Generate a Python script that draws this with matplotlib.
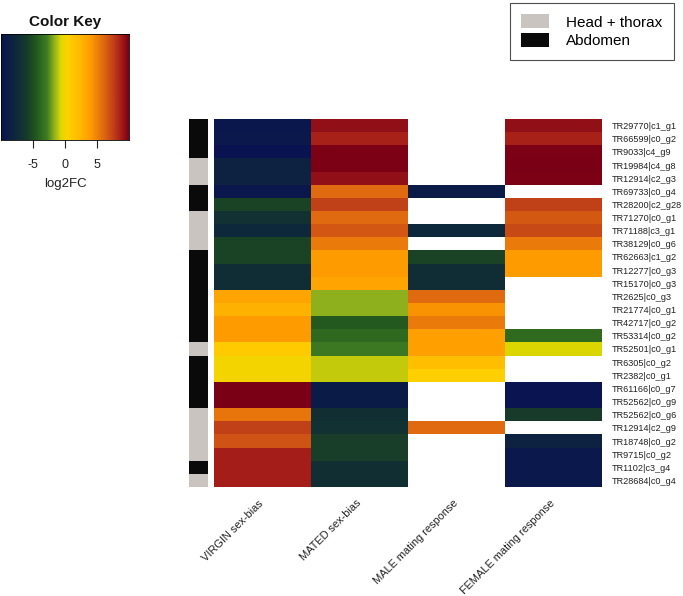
import numpy as np
import matplotlib
matplotlib.use("Agg")
import matplotlib.pyplot as plt
from matplotlib.colors import LinearSegmentedColormap, ListedColormap
from matplotlib.patches import Patch

plt.rcParams['font.family'] = ['Liberation Sans', 'DejaVu Sans']
plt.rcParams['axes.unicode_minus'] = False

# row labels (top to bottom)
genes = ["TR29770|c1_g1", "TR66599|c0_g2", "TR9033|c4_g9", "TR19984|c4_g8",
         "TR12914|c2_g3", "TR69733|c0_g4", "TR28200|c2_g28", "TR71270|c0_g1",
         "TR71188|c3_g1", "TR38129|c0_g6", "TR62663|c1_g2", "TR12277|c0_g3",
         "TR15170|c0_g3", "TR2625|c0_g3", "TR21774|c0_g1", "TR42717|c0_g2",
         "TR53314|c0_g2", "TR52501|c0_g1", "TR6305|c0_g2", "TR2382|c0_g1",
         "TR61166|c0_g7", "TR52562|c0_g9", "TR52562|c0_g6", "TR12914|c2_g9",
         "TR18748|c0_g2", "TR9715|c0_g2", "TR1102|c3_g4", "TR28684|c0_g4"]

conditions = ["VIRGIN sex-bias", "MATED sex-bias", "MALE mating response", "FEMALE mating response"]

# tissue: 0 = head + thorax, 1 = abdomen
tissue = [1, 1, 1, 0, 0, 1, 1, 0, 0, 0, 1, 1, 1, 1,
          1, 1, 1, 0, 1, 1, 1, 1, 0, 0, 0, 0, 1, 0]

nan = np.nan
virgin = [-9.5, -9.3, -10, -8.3, -8.3, -9.5, -5.5, -6.8, -7.8, -5.5, -5.5, -7.2, -7.2, 3.5,
          2.8, 4.0, 4.0, 1.0, 0.0, 0.0, 10, 10, 5.5, 7.5, 6.8, 8.8, 8.8, 8.8]
mated = [9.3, 8.6, 9.9, 9.9, 9.3, 6.0, 7.5, 6.0, 6.7, 5.3, 4.0, 4.0, 3.5, -1.7,
         -1.7, -4.4, -3.7, -3.0, -1.0, -1.0, -9.0, -9.0, -7.0, -6.8, -5.8, -5.8, -7.0, -7.0]
male = [nan, nan, nan, nan, nan, -9.0, nan, nan, -7.8, nan, -5.5, -7.2, -7.2, 6.0,
        4.3, 5.3, 3.7, 3.7, 1.8, 0.6, nan, nan, nan, 6.0, nan, nan, nan, nan]
female = [9.3, 8.6, 9.9, 10, 9.9, nan, 7.5, 6.6, 7.2, 5.3, 4.0, 4.0, nan, nan,
          nan, nan, -3.6, -0.7, nan, nan, -9.8, -9.8, -6.0, nan, -8.3, -9.3, -9.3, -9.3]

stops = [(0.00, "#0a1352"), (0.10, "#0d263d"), (0.20, "#173a2a"), (0.28, "#245a1e"),
         (0.36, "#3f7d22"), (0.42, "#95b51d"), (0.47, "#e0d800"), (0.52, "#ffd200"),
         (0.62, "#ffb800"), (0.70, "#ff9c00"), (0.80, "#e06a10"), (0.88, "#c04018"),
         (0.95, "#a01818"), (1.00, "#7a0015")]
cmap = LinearSegmentedColormap.from_list("fc", stops)
cmap.set_bad("white")
vmin, vmax = -10, 10

W, H = 683, 596
fig = plt.figure(figsize=(W / 100, H / 100), dpi=100)

def box(x0, y0, x1, y1):
    return [x0 / W, 1 - y1 / H, (x1 - x0) / W, (y1 - y0) / H]

# main heatmap
data = np.ma.masked_invalid(np.array([virgin, mated, male, female]).T)
ax = fig.add_axes(box(214, 119, 602, 487))
ax.imshow(data, cmap=cmap, vmin=vmin, vmax=vmax, aspect='auto', interpolation='nearest')
ax.set_xticks(np.arange(len(conditions)) - 0.04)
ax.set_xticklabels(conditions, rotation=45, ha='right', va='top', rotation_mode='anchor',
                   fontsize=7.9, color='#222222')
ax.set_yticks(range(len(genes)))
ax.set_yticklabels(genes, fontsize=6.6, color='#222222')
ax.yaxis.tick_right()
ax.tick_params(axis='y', length=0, pad=7)
ax.tick_params(axis='x', length=0, pad=8)
for s in ax.spines.values():
    s.set_visible(False)

# tissue side bar
tissue_colors = ["#c9c4c0", "#0a0a0a"]
side = fig.add_axes(box(189, 119, 208, 487))
side.imshow(np.array(tissue)[:, None], cmap=ListedColormap(tissue_colors),
            vmin=0, vmax=1, aspect='auto', interpolation='nearest')
side.axis('off')

# color key
kax = fig.add_axes(box(1, 34, 129, 140))
grad = np.linspace(vmin, vmax, 256)[None, :]
kax.imshow(grad, cmap=cmap, vmin=vmin, vmax=vmax, aspect='auto',
           extent=[vmin, vmax, 0, 1])
kax.set_yticks([])
kax.set_xticks([-5, 0, 5])
kax.tick_params(axis='x', length=6, width=0.8, labelsize=9, colors='#222222', pad=8)
kax.set_xlabel("log2FC", fontsize=9.5, color='#222222', labelpad=5)
for s in kax.spines.values():
    s.set_linewidth(0.6)
kax.set_title("Color Key", fontsize=11, fontweight='bold', pad=6, color='#111111')

# tissue legend
handles = [Patch(facecolor=tissue_colors[0], edgecolor='none', label="Head + thorax"),
           Patch(facecolor=tissue_colors[1], edgecolor='none', label="Abdomen")]
leg = fig.legend(handles=handles, loc='upper right', bbox_to_anchor=(674 / W, 1 - 3 / H),
                 fontsize=11, frameon=True, fancybox=False, edgecolor='#222222',
                 handlelength=1.85, handleheight=1.0, handletextpad=1.1,
                 labelspacing=0.25, borderpad=0.75, borderaxespad=0)
leg.get_frame().set_linewidth(0.8)

fig.savefig("out.png", dpi=100)
